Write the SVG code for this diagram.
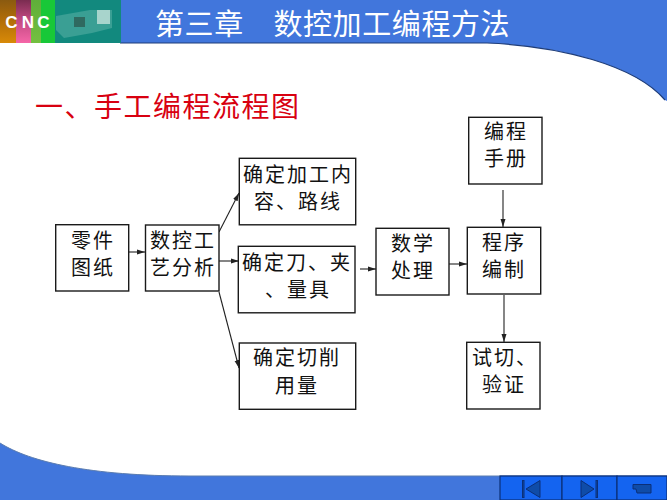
<svg xmlns="http://www.w3.org/2000/svg" width="667" height="500" viewBox="0 0 667 500">
<style>
.box{fill:#fff;stroke:#1a1a1a;stroke-width:1.4}
.t{font-family:"Noto Sans CJK SC","Liberation Sans",sans-serif;font-size:20px;letter-spacing:2px;fill:#111;text-anchor:middle}
.c{fill:none;stroke:#222;stroke-width:1.1;marker-end:url(#a)}
.btn{fill:#1464f0;stroke:#0b2f78;stroke-width:1.2}
.ic{fill:#0f4ca8;stroke:#0b2f78;stroke-width:1}
.lg{font-family:"Liberation Sans",sans-serif;font-size:17px;font-weight:bold;fill:#fff;text-anchor:middle}
</style>
<defs>
<marker id="a" markerUnits="userSpaceOnUse" markerWidth="9" markerHeight="6" refX="8" refY="3" orient="auto"><path d="M0 .5L8 3L0 5.500Z" fill="#222"/></marker>
<linearGradient id="g1" x1="0" y1="0" x2="0" y2="1"><stop offset="0" stop-color="#8a5a10"/><stop offset=".45" stop-color="#b06c08"/><stop offset="1" stop-color="#d88a08"/></linearGradient>
<linearGradient id="g2" x1="0" y1="0" x2="0" y2="1"><stop offset="0" stop-color="#7a2c50"/><stop offset=".45" stop-color="#c04880"/><stop offset="1" stop-color="#f566a8"/></linearGradient>
<linearGradient id="g3" x1="0" y1="0" x2="0" y2="1"><stop offset="0" stop-color="#5fae3a"/><stop offset="1" stop-color="#74c040"/></linearGradient>
</defs>
<rect width="667" height="500" fill="#fff"/>
<path d="M0 0H667V101L665 100C635 65 560 46 487 43H0Z" fill="#4176dc"/>
<path d="M120 43H487C560 46 635 65 665 100" fill="none" stroke="#1f3d78" stroke-width="1.2"/>
<path d="M0 443C30 462 90 476 190 476H667V500H0Z" fill="#4176dc"/>
<path d="M0 443C30 462 90 476 190 476H667" fill="none" stroke="#5a7cb0" stroke-width="1"/>
<g id="logo">
<rect width="16" height="43" fill="url(#g1)"/>
<rect x="16" width="15" height="43" fill="url(#g2)"/>
<rect x="31" width="10" height="43" fill="url(#g3)"/>
<rect x="41" width="14" height="43" fill="#18c838"/>
<rect x="55" width="66" height="43" fill="#12897e"/>
<path d="M56 16L90 10H112V28L92 33L64 38L56 30Z" fill="#3a9f94"/>
<rect x="74" y="17" width="11" height="10" fill="#2f6a60"/>
<rect x="97" y="10" width="13" height="14" fill="#a8d4cc"/>
<text class="lg" x="11.500" y="28">C</text>
<text class="lg" x="28" y="28">N</text>
<text class="lg" x="43.500" y="28">C</text>
</g>
<text x="155" y="35" font-family="Noto Sans CJK SC,sans-serif" font-size="29" letter-spacing=".6" fill="#fff">第三章　数控加工编程方法</text>
<text x="35" y="117" font-family="Noto Sans CJK SC,sans-serif" font-size="28" letter-spacing="1.500" fill="#d80010">一、手工编程流程图</text>
<g id="connectors">
<path class="c" d="M129 252H145"/>
<path class="c" d="M219 232L239 193"/>
<path class="c" d="M219 261H239"/>
<path class="c" d="M219 292L239 368"/>
<path class="c" d="M360 269H376"/>
<path class="c" d="M449 264H467"/>
<path class="c" d="M503 190V227"/>
<path class="c" d="M504 295V342"/>
</g>
<g id="n1"><rect class="box" x="55.700" y="224.700" width="73" height="66.300"/><text class="t" x="93" y="248">零件</text><text class="t" x="93" y="275">图纸</text></g>
<g id="n2"><rect class="box" x="145.500" y="225" width="73.500" height="66"/><text class="t" x="183" y="248">数控工</text><text class="t" x="183" y="275">艺分析</text></g>
<g id="n3"><rect class="box" x="239.300" y="158.300" width="116.400" height="66.500"/><text class="t" x="298" y="182">确定加工内</text><text class="t" x="298" y="209">容、路线</text></g>
<g id="n4"><rect class="box" x="238.300" y="246.300" width="116.700" height="66.500"/><text class="t" x="297" y="270">确定刀、夹</text><text class="t" x="298" y="297">、量具</text></g>
<g id="n5"><rect class="box" x="239.300" y="343" width="116.400" height="66.300"/><text class="t" x="297" y="365">确定切削</text><text class="t" x="297" y="393">用量</text></g>
<g id="n6"><rect class="box" x="376" y="228.300" width="73" height="66.700"/><text class="t" x="413" y="251">数学</text><text class="t" x="413" y="278">处理</text></g>
<g id="n7"><rect class="box" x="467.300" y="227.300" width="73.400" height="66.700"/><text class="t" x="504" y="250">程序</text><text class="t" x="504" y="277">编制</text></g>
<g id="n8"><rect class="box" x="468.700" y="117.300" width="73.300" height="66.700"/><text class="t" x="506" y="139">编程</text><text class="t" x="506" y="166">手册</text></g>
<g id="n9"><rect class="box" x="466.700" y="342.300" width="73.300" height="66.700"/><text class="t" x="505" y="365">试切、</text><text class="t" x="504" y="392">验证</text></g>
<g id="nav">
<rect class="btn" x="500" y="476" width="62" height="24"/><rect class="btn" x="562" y="476" width="55" height="24"/><rect class="btn" x="617" y="476" width="50" height="24"/>
<rect class="ic" x="522.500" y="480.500" width="1.500" height="17"/><path class="ic" d="M540 480.500V497.500L526 489Z"/>
<path class="ic" d="M581 480.500V497.500L594 489Z"/><rect class="ic" x="596" y="480.500" width="1.500" height="17"/>
<path class="ic" d="M633 484.500H651V493H637L636 489H633Z"/>
</g>
</svg>
